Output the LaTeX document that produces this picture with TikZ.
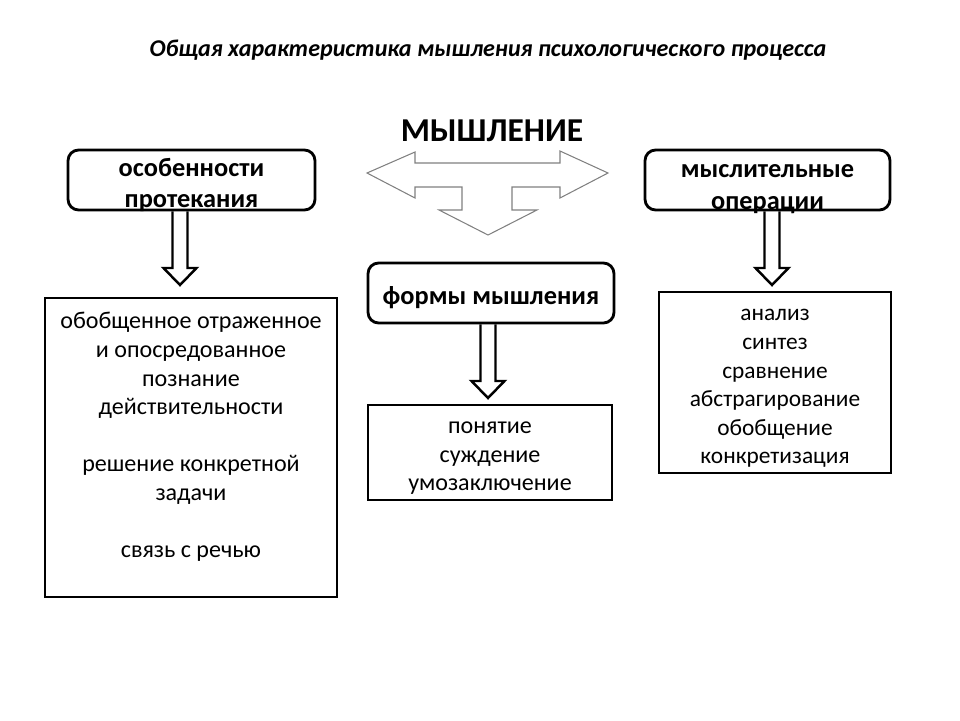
\documentclass[tikz,border=0pt]{standalone}
\usepackage{fontspec}
\setmainfont{Carlito}
\usetikzlibrary{calc}
\usetikzlibrary{positioning}

\begin{document}
\begin{tikzpicture}[x=0.02cm, y=-0.02cm,
    headbox/.style={draw, line width=1.6pt, rounded corners=6pt, align=center, inner sep=0pt},
    headtext/.style={align=center, inner sep=0pt, font=\fontsize{15}{18}\selectfont\bfseries},
    listbox/.style={draw, line width=1.2pt, inner sep=0pt},
    listtext/.style={align=center, font=\fontsize{13.7}{16.3}\selectfont},
    hollow/.style={draw, line width=1.4pt, line join=miter}]

  \useasboundingbox (0,0) rectangle (960,720);

  \node (title) at (488,50) {\fontsize{13.7}{16}\selectfont\bfseries\itshape
    Общая характеристика мышления психологического процесса};
  \node (think) at (492,131) {\fontsize{19}{23}\selectfont\bfseries МЫШЛЕНИЕ};

  \node [headbox, minimum width=4.94cm, minimum height=1.2cm] (featBox) at (191.5,180) {};
  \node [headtext] (featHead) at (191.5,185) {особенности\\протекания};
  \node [headbox, minimum width=4.9cm, minimum height=1.2cm] (operBox) at (767.5,180) {};
  \node [headtext] (operHead) at (767.5,189) {мыслительные\\операции};
  \node [headbox, minimum width=4.92cm, minimum height=1.2cm] (formBox) at (491,293) {};
  \node [headtext] (formHead) at (491,298) {формы мышления};

  \node [listbox, minimum width=5.84cm, minimum height=5.98cm] (featList) at (191,447.5) {};
  \node [listtext, below=0.11cm of featList.north] (featText)
    {\strut обобщенное отраженное\\и опосредованное\\познание\\действительности\\[16.3pt]
    решение конкретной\\задачи\\[16.3pt]связь с речью};
  \node [listbox, minimum width=4.88cm, minimum height=1.9cm] (formList) at (490,452.5) {};
  \node [listtext, below=0.07cm of formList.north] (formText)
    {\strut понятие\\суждение\\умозаключение};
  \node [listbox, minimum width=4.64cm, minimum height=3.62cm] (operList) at (775,382.5) {};
  \node [listtext, below=0.07cm of operList.north, font=\fontsize{13.3}{16.3}\selectfont]
    (operText) {\strut анализ\\синтез\\сравнение\\абстрагирование\\обобщение\\конкретизация};

  % T-shaped arrow under the heading
  \coordinate (hub) at (488,173);
  \draw [draw=black!50, line width=0.6pt, line join=miter]
    ($(hub)+(-121,0)$) -- ++(48,-21) -- ++(0,11) -- ++(145,0) -- ++(0,-12)
    -- ($(hub)+(120,0)$) -- ++(-48,25) -- ++(0,-11) -- ++(-48,0) -- ++(0,23)
    -- ++(25,0) -- ($(hub)+(0,62)$) -- ++(-49,-25) -- ++(23,0) -- ++(0,-23)
    -- ++(-47,0) -- ++(0,11) -- cycle;

  \coordinate (tipA) at (180,285);
  \coordinate (tipB) at (772,285);
  \coordinate (tipC) at (488,398);

  \foreach \src/\tip in {featBox/tipA, operBox/tipB, formBox/tipC} {
    \coordinate (top) at (\tip |- \src.south);
    \draw [hollow] ($(top)+(-7.5,0)$) -- ($(\tip)+(-7.5,-17)$) -- ($(\tip)+(-16.5,-17)$)
      -- (\tip) -- ($(\tip)+(16.5,-17)$) -- ($(\tip)+(7.5,-17)$) -- ($(top)+(7.5,0)$);
  }

\end{tikzpicture}
\end{document}
